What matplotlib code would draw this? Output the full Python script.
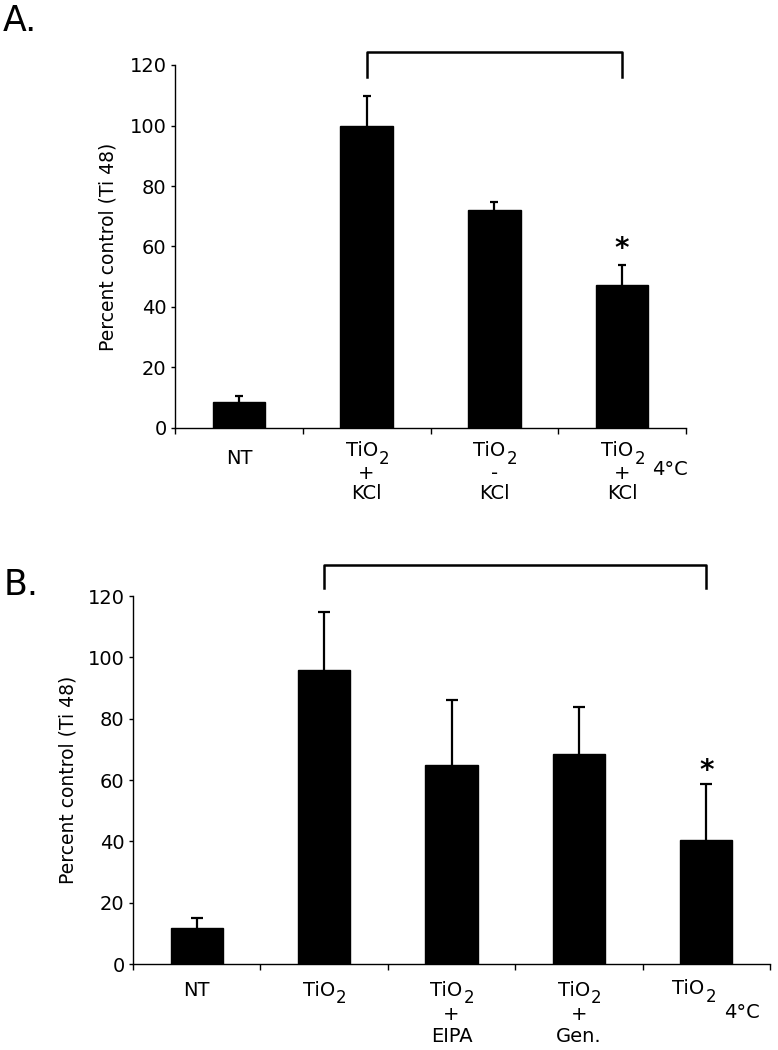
import numpy as np
import matplotlib
matplotlib.use('Agg')
import matplotlib.pyplot as plt

plt.rcParams['font.family'] = ['DejaVu Sans']

# panel A data
a_labels = [['NT'], ['TiO2', '+', 'KCl'], ['TiO2', '-', 'KCl'], ['TiO2', '+', 'KCl']]
a_values = [8.7, 100.0, 72.1, 47.3]
a_err = [1.9, 9.7, 2.6, 6.6]

# panel B data
b_labels = [['NT'], ['TiO2'], ['TiO2', '+', 'EIPA'], ['TiO2', '+', 'Gen.'], ['TiO2']]
b_values = [11.8, 96.0, 65.0, 68.6, 40.3]
b_err = [3.3, 18.7, 21.2, 15.1, 18.4]

yticks = [0, 20, 40, 60, 80, 100, 120]

W, H = 778, 1050
fig = plt.figure(figsize=(W / 100, H / 100), dpi=100)


def px_axes(left, right, bottom, top):
    # pixel box -> figure fraction
    return fig.add_axes([left / W, 1 - bottom / H, (right - left) / W, (bottom - top) / H])


def label(ax, i, t, dx, dy, size=14):
    ax.annotate(t, xy=(i, 0), xycoords=('data', 'axes fraction'),
                xytext=(dx, -dy), textcoords='offset pixels',
                ha='center', va='center', fontsize=size)


def tio2(ax, i, dx, dy):
    # TiO with a large, dropped subscript 2
    t = ax.annotate('TiO', xy=(i, 0), xycoords=('data', 'axes fraction'),
                    xytext=(dx - 5, -dy), textcoords='offset pixels',
                    ha='center', va='center', fontsize=14)
    ax.annotate('2', xy=(1, 0.5), xycoords=t, xytext=(1, -8), textcoords='offset pixels',
                ha='left', va='center', fontsize=12)


def draw_panel(ax, labels, values, err, capsize, ylab_x, line_dy, nt_dy, bracket, star_dy):
    n = len(values)
    x = np.arange(n)
    ax.bar(x, values, width=0.41, color='black', edgecolor='black')
    eb = ax.errorbar(x, values, yerr=[np.zeros(n), err], fmt='none', ecolor='black',
                     elinewidth=1.6, capsize=capsize, capthick=1.6)
    eb[1][0].set_visible(False)   # no cap at the bar top
    ax.set_xlim(-0.5, n - 0.5)
    ax.set_ylim(0, 120)
    ax.set_yticks(yticks)
    ax.tick_params(axis='y', labelsize=14, length=3, width=1, pad=3)
    ax.set_xticks(np.arange(n + 1) - 0.5)
    ax.set_xticklabels([])
    ax.tick_params(axis='x', length=4, width=1)
    for s in ['top', 'right']:
        ax.spines[s].set_visible(False)
    for s in ['left', 'bottom']:
        ax.spines[s].set_linewidth(1.0)
    ax.set_ylabel('Percent control (Ti 48)', fontsize=13.5)
    ax.yaxis.set_label_coords(ylab_x, 0.5)

    # category labels, stacked lines
    for i, lines in enumerate(labels):
        if lines == ['NT']:
            label(ax, i, 'NT', 0, nt_dy)
            continue
        for j, t in enumerate(lines):
            if t == 'TiO2':
                tio2(ax, i, 0, line_dy[j])
            else:
                label(ax, i, t, 0, line_dy[j])

    # bracket between groups
    x1, x2, ylo, yhi = bracket
    ax.plot([x1, x1, x2, x2], [ylo, yhi, yhi, ylo], color='black', lw=1.8, clip_on=False)

    # significance star
    k = n - 1
    ax.annotate('*', xy=(k, values[k] + err[k]), xytext=(0, star_dy),
                textcoords='offset pixels', ha='center', va='center',
                fontsize=20, fontweight='bold')


# panel A
axA = px_axes(175, 686, 428, 65)
draw_panel(axA, a_labels, a_values, a_err, 3.0, (118 - 175) / 511,
           [23, 46, 66], 31, (1, 3, 116, 124.3), 16)
label(axA, 3, '4°C', 48, 42)

# panel B
axB = px_axes(133, 770, 964, 596)
draw_panel(axB, b_labels[:-1] + [[]], b_values, b_err, 4.3, (78 - 133) / 637,
           [26, 51, 73], 27, (1, 4, 122.6, 130), 13)
tio2(axB, 4, -13, 25)
label(axB, 4, '4°C', 36, 49)

fig.text(3 / W, 1 - 4 / H, 'A.', fontsize=25, ha='left', va='top')
fig.text(4 / W, 1 - 568 / H, 'B.', fontsize=25, ha='left', va='top')

fig.savefig('out.png', dpi=100)
